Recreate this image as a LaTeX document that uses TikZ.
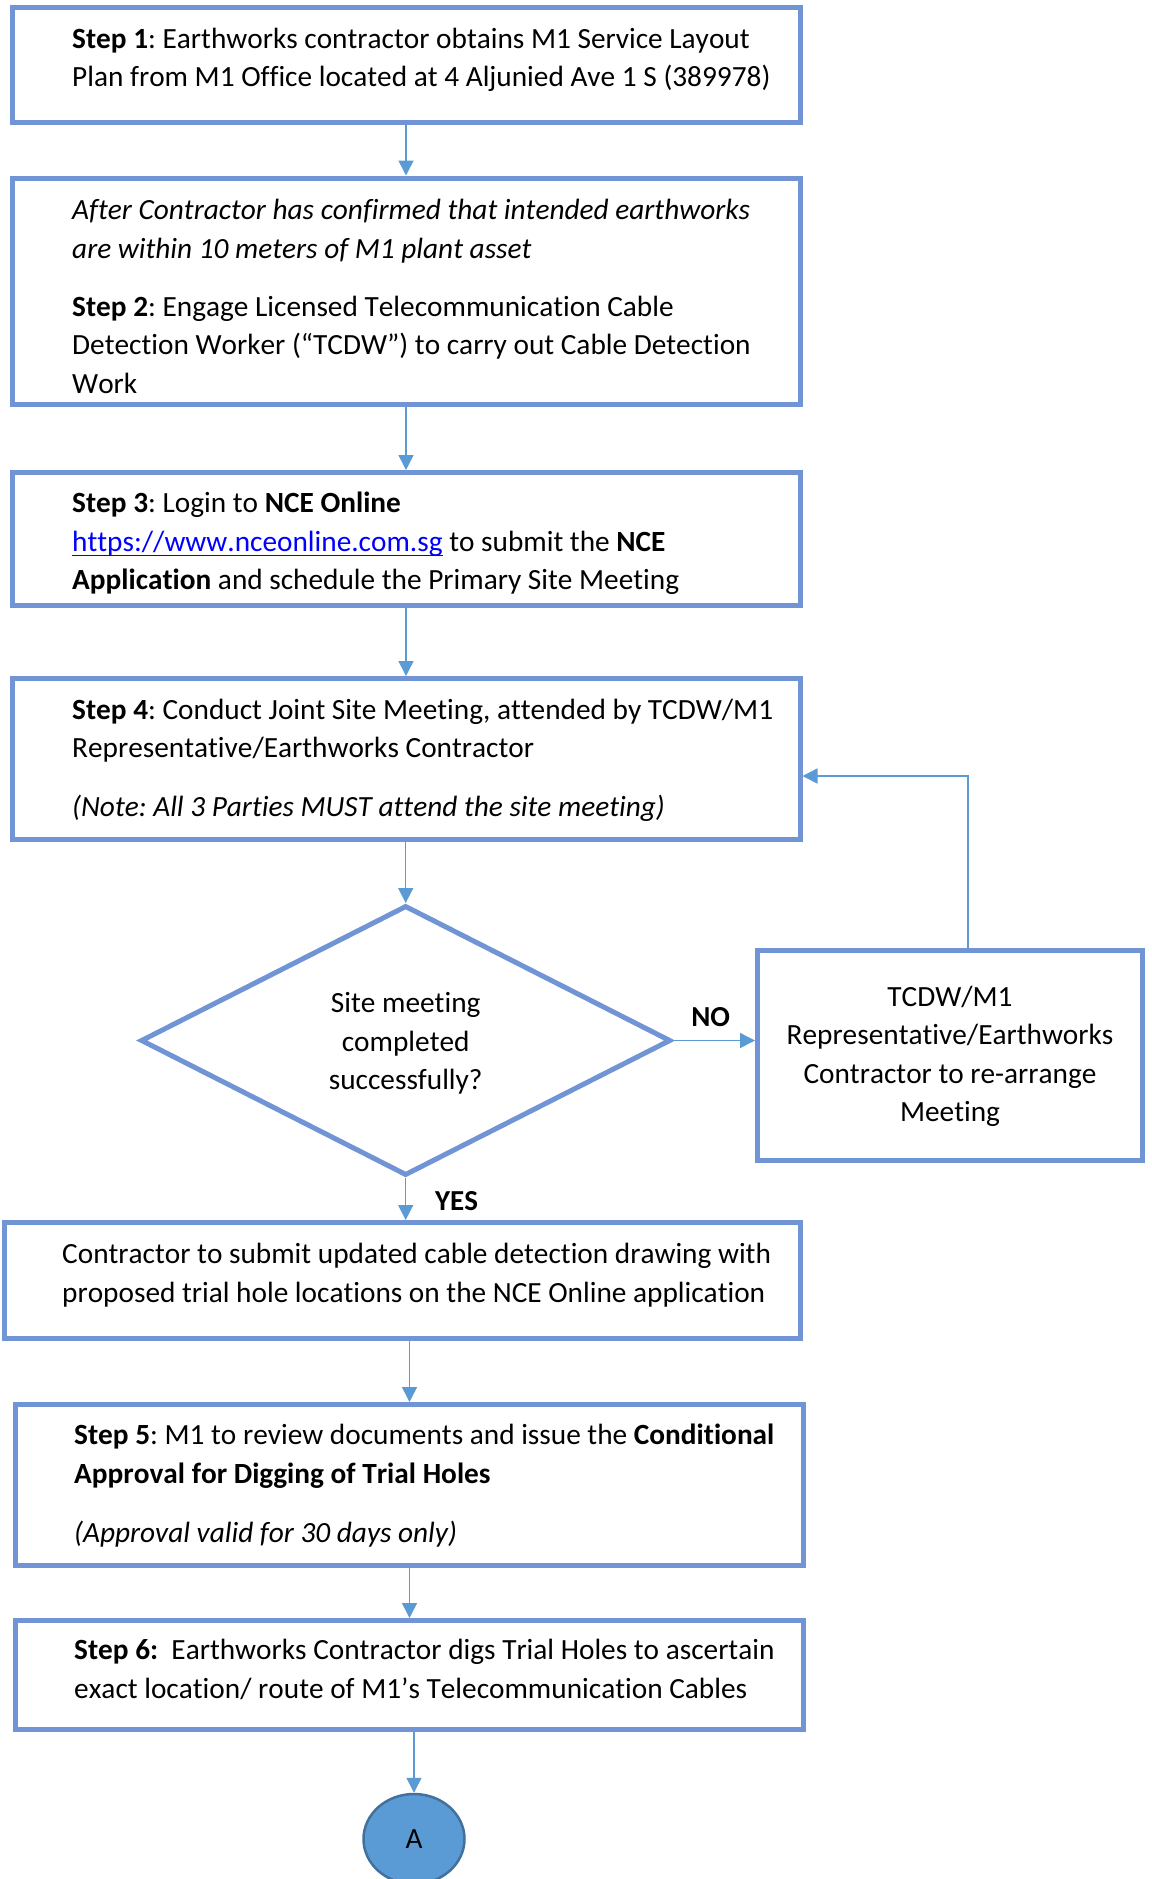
\documentclass[tikz,border=0pt]{standalone}
\usepackage{fontspec}
\setmainfont{Carlito}[Kerning=Off,Ligatures=NoCommon]
\usetikzlibrary{arrows.meta,shapes.geometric}
\definecolor{boxblue}{RGB}{112,148,212}
\definecolor{arrblue}{RGB}{91,155,213}
\definecolor{ellborder}{RGB}{65,113,156}
\definecolor{linkblue}{RGB}{0,0,255}
\newcommand\linkul[1]{\leavevmode{\color{linkblue}\setbox0\hbox{#1}\rlap{\rule[-5pt]{\wd0}{1.5pt}}\box0}}
\newcommand\resetsp{\spaceskip=0pt\xspaceskip=0pt\frenchspacing}
\begin{document}
\begin{tikzpicture}[x=1pt,y=-1pt,
  every node/.style={font=\fontsize{29.3pt}{38.5pt}\selectfont},
  box/.style={draw=boxblue,line width=5pt,rectangle,inner sep=0pt},
  txt/.style={inner sep=0pt,anchor=base west,text width=770pt,align=flush left},
  ctxt/.style={inner sep=0pt,anchor=base,text width=380pt,align=flush center},
  arr/.style={draw=arrblue,line width=1.5pt,-{Triangle[width=15pt,length=15pt]}},
  lbl/.style={inner sep=0pt,anchor=base,font=\fontsize{29pt}{38.5pt}\selectfont\bfseries}]
\fill[white] (0,0) rectangle (1151,1879);
\useasboundingbox (0,0) rectangle (1151,1879);

% boxes
\node[box,minimum width=788pt,minimum height=115.5pt] (b1) at (406,64.75) {};
\node[box,minimum width=788pt,minimum height=226pt] (b2) at (406,291) {};
\node[box,minimum width=788pt,minimum height=133pt] (b3) at (406,539) {};
\node[box,minimum width=788pt,minimum height=161pt] (b4) at (406,759) {};
\node[draw=boxblue,line width=5pt,diamond,aspect=1.96,inner sep=0pt,
      minimum width=530pt,minimum height=270pt] (dia) at (405.7,1040.5) {};
\node[box,minimum width=385pt,minimum height=210pt] (rb) at (950,1055) {};
\node[box,minimum width=795.5pt,minimum height=116pt] (b5) at (402.25,1280.5) {};
\node[box,minimum width=788pt,minimum height=161pt] (b6) at (409.5,1485) {};
\node[box,minimum width=788pt,minimum height=109pt] (b7) at (409.5,1675) {};
\node[ellipse,fill=arrblue,draw=ellborder,line width=2.5pt,inner sep=0pt,
      minimum width=101pt,minimum height=90pt] (A) at (414,1839) {A};

% texts
\node[txt] (t1) at (72,48.2) {\resetsp\textbf{Step 1}: Earthworks contractor obtains M1 Service Layout\\Plan from M1 Office located at 4 Aljunied Ave 1 S (389978)};
\node[txt] (t2) at (72,219.7) {\resetsp\textit{After Contractor has confirmed that intended earthworks}\\\textit{are within 10 meters of M1 plant asset}\\[19.5pt]\textbf{Step 2}: Engage Licensed Telecommunication Cable\\Detection Worker (“TCDW”) to carry out Cable Detection\\Work};
\node[txt] (t3) at (72,512.7) {\resetsp\textbf{Step 3}: Login to \textbf{NCE Online}\\\linkul{https://www.nceonline.com.sg} to submit the \textbf{NCE}\\\textbf{Application} and schedule the Primary Site Meeting};
\node[txt] (t4) at (72,719) {\resetsp\textbf{Step 4}: Conduct Joint Site Meeting, attended by TCDW/M1\\Representative/Earthworks Contractor\\[20pt]\textit{(Note: All 3 Parties MUST attend the site meeting)}};
\node[txt] (t5) at (62,1263.7) {\resetsp Contractor to submit updated cable detection drawing with\\proposed trial hole locations on the NCE Online application};
\node[txt] (t6) at (74,1444.7) {\resetsp\textbf{Step 5}: M1 to review documents and issue the \textbf{Conditional}\\\textbf{Approval for Digging of Trial Holes}\\[20.5pt]\textit{(Approval valid for 30 days only)}};
\node[txt] (t7) at (74,1659.5) {\resetsp\textbf{Step 6:}\ \ Earthworks Contractor digs Trial Holes to ascertain\\exact location/ route of M1’s Telecommunication Cables};
\node[ctxt] (dtxt) at (405.7,1012.5) {\resetsp Site meeting\\completed\\successfully?};
\node[ctxt] (rtxt) at (950,1006) {\resetsp TCDW/M1\\Representative/Earthworks\\Contractor to re-arrange\\Meeting};

\node[lbl] (no) at (710.6,1026.7) {NO};
\node[lbl] (yes) at (456.5,1210) {YES};

% connectors
\draw[arr] (b1) -- (b2);
\draw[arr] (b2) -- (b3);
\draw[arr] (b3) -- (b4);
\draw[arr] (dia.north |- b4.south) -- (dia.north);
\draw[arr] (dia.east) -- (rb.west |- dia.east);
\coordinate (fb) at (968,776);
\draw[arr] (rb.north -| fb) -- (fb) -- (b4.east |- fb);
\draw[arr] (dia.south) -- (dia.south |- b5.north);
\draw[arr] (b5.south -| b6.north) -- (b6.north);
\draw[arr] (b6) -- (b7);
\draw[arr] (A.north |- b7.south) -- (A.north);
\end{tikzpicture}
\end{document}
